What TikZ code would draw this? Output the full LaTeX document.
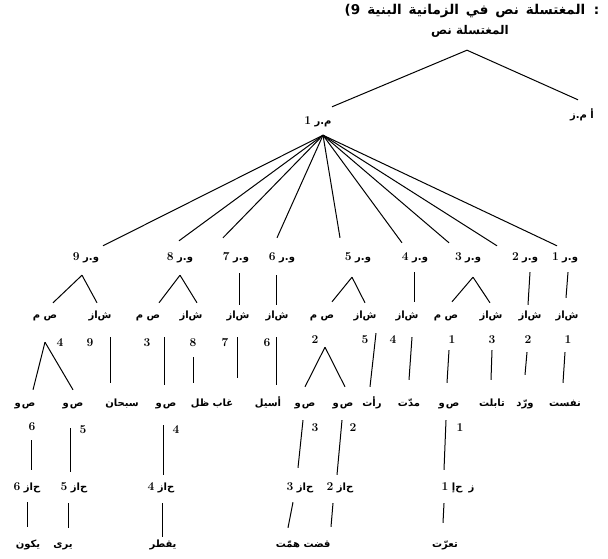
\documentclass[tikz,border=0pt]{standalone}
\usepackage{fontspec}
\newfontfamily\arabicfont[Script=Arabic]{DejaVu Sans}
\TeXXeTstate=1
\usetikzlibrary{calc}
\newcommand\nb[1]{\hbox{\normalfont\bfseries\fontsize{12}{14}\selectfont #1}}
\newcommand\zash{\hbox{ش}\hbox{ا}\hbox{ز}}
\newcommand\zah{\hbox{ح}\hbox{ا}\hbox{ز}}
\newcommand\waS{\hbox{ص}\kern1pt\hbox{و}}
\newcommand\ar[1]{\beginR #1\endR}
\newcommand\widesp{\spaceskip=7pt plus 2pt minus 1pt\relax}
\tikzset{
  lab/.style={font=\arabicfont\bfseries\fontsize{10}{12}\selectfont,inner sep=1.5pt,text height=8pt,text depth=3pt},
  head/.style={lab,font=\arabicfont\bfseries\fontsize{13.5}{15}\selectfont\widesp},
  num/.style={font=\bfseries\fontsize{12}{14}\selectfont,inner sep=1pt},
  tree/.style={line width=1pt}
}
\begin{document}
\begin{tikzpicture}[x=1pt,y=-1pt]
\useasboundingbox (0,0) rectangle (608,559);
\node(title) at (472,12)[head]     {\ar{: المغتسلة نص في الزمانية البنية \hbox{9)}}};
\node(root) at (470,32)[lab,font=\arabicfont\bfseries\fontsize{12}{14}\selectfont] {\ar{المغتسلة نص}};
\node(zma) at (582,116)[lab]       {\ar{أ م.ز}};
\node(mr1) at (318,122)[lab]       {\ar{م.ر \nb{1}}};

% units
\node(vr9) at (86,258)[lab]        {\ar{و.ر \nb{9}}};
\node(vr8) at (180,258)[lab]       {\ar{و.ر \nb{8}}};
\node(vr7) at (236,258)[lab]       {\ar{و.ر \nb{7}}};
\node(vr6) at (282,258)[lab]       {\ar{و.ر \nb{6}}};
\node(vr5) at (358,258)[lab]       {\ar{و.ر \nb{5}}};
\node(vr4) at (415,258)[lab]       {\ar{و.ر \nb{4}}};
\node(vr3) at (468,258)[lab]       {\ar{و.ر \nb{3}}};
\node(vr2) at (525,258)[lab]       {\ar{و.ر \nb{2}}};
\node(vr1) at (565,258)[lab]       {\ar{و.ر \nb{1}}};

\node(ms9) at (45,316)[lab]        {\ar{ص م}};
\node(zs9) at (100,316)[lab]       {\ar{\zash}};
\node(ms8) at (148,316)[lab]       {\ar{ص م}};
\node(zs8) at (191,316)[lab]       {\ar{\zash}};
\node(zs7) at (238,316)[lab]       {\ar{\zash}};
\node(zs6) at (277,316)[lab]       {\ar{\zash}};
\node(ms5) at (322,316)[lab]       {\ar{ص م}};
\node(zs5) at (365,316)[lab]       {\ar{\zash}};
\node(zs4) at (407,316)[lab]       {\ar{\zash}};
\node(ms3) at (446,316)[lab]       {\ar{ص م}};
\node(zs3) at (491,316)[lab]       {\ar{\zash}};
\node(zs2) at (530,316)[lab]       {\ar{\zash}};
\node(zs1) at (567,316)[lab]       {\ar{\zash}};

\node(nms9) at (60,343)[num]       {4};
\node(nzs9) at (90,343)[num]       {9};
\node(nms8) at (147,343)[num]      {3};
\node(nzs8) at (193,343)[num]      {8};
\node(nzs7) at (225,343)[num]      {7};
\node(nzs6) at (267,343)[num]      {6};
\node(nms5) at (315,340)[num]      {2};
\node(nzs5) at (365,340)[num]      {5};
\node(nzs4) at (393,340)[num]      {4};
\node(nms3) at (452,340)[num]      {1};
\node(nzs3) at (492,340)[num]      {3};
\node(nzs2) at (528,340)[num]      {2};
\node(nzs1) at (568,340)[num]      {1};

\node(ws9a) at (25,404)[lab]       {\ar{\waS}};
\node(ws9b) at (73,404)[lab]       {\ar{\waS}};
\node(sbh) at (122,404)[lab]       {\ar{سبحان}};
\node(ws8) at (166,404)[lab]       {\ar{\waS}};
\node(dhl) at (200,404)[lab]       {\ar{ظل}};
\node(ghb) at (223,404)[lab]       {\ar{غاب}};
\node(asl) at (268,404)[lab]       {\ar{أسيل}};
\node(ws5a) at (305,404)[lab]      {\ar{\waS}};
\node(ws5b) at (343,404)[lab]      {\ar{\waS}};
\node(rat) at (372,404)[lab]       {\ar{رأت}};
\node(mdt) at (409,404)[lab]       {\ar{مدّت}};
\node(ws3) at (449,404)[lab]       {\ar{\waS}};
\node(tbl) at (492,404)[lab]       {\ar{تابلت}};
\node(wrd) at (525,404)[lab]       {\ar{ورّد}};
\node(nfs) at (565,404)[lab]       {\ar{نفست}};

\node(nws9a) at (32,427)[num]      {6};
\node(nws9b) at (83,430)[num]      {5};
\node(nws8) at (176,430)[num]      {4};
\node(nws5a) at (315,428)[num]     {3};
\node(nws5b) at (353,428)[num]     {2};
\node(nws3) at (460,428)[num]      {1};

\node(zh6) at (27,488)[lab]        {\ar{\zah\ \nb{6}}};
\node(zh5) at (74,488)[lab]        {\ar{\zah\ \nb{5}}};
\node(zh4) at (161,488)[lab]       {\ar{\zah\ \nb{4}}};
\node(zh3) at (300,488)[lab]       {\ar{\zah\ \nb{3}}};
\node(zh2) at (340,488)[lab]       {\ar{\zah\ \nb{2}}};
\node(zh1) at (458,488)[lab]       {\ar{ز\hspace{6pt}\hbox{ح}\hbox{إ}\ \nb{1}}};

\node(ykn) at (28,545)[lab]        {\ar{يكون}};
\node(yra) at (63,545)[lab]        {\ar{يرى}};
\node(yqt) at (163,545)[lab]       {\ar{يقطر}};
\node(hmt) at (288,545)[lab]       {\ar{همّت}};
\node(qdt) at (317,545)[lab]       {\ar{قضت}};
\node(tar) at (445,545)[lab]       {\ar{تعرّت}};

% apexes
\coordinate (top) at ($(root.south)+(-3,11)$);
\coordinate (fan) at ($(mr1.south)+(5,6)$);
\coordinate (t9) at ($(vr9.south)+(-4,10)$);
\coordinate (t8) at ($(vr8.south)+(0,10)$);
\coordinate (t5) at ($(vr5.south)+(-6,12)$);
\coordinate (t3) at ($(vr3.south)+(5,12)$);
\coordinate (tm9) at ($(ms9.south)+(0,19)$);
\coordinate (tm5) at ($(ms5.south)+(3,24)$);

\path [tree]
  (top) edge ($(mr1.north)+(14,-8)$)
  (top) edge ($(zma.north)+(-4,-9)$)
  (fan) edge ($(vr9.north)+(17,-5)$)
  (fan) edge ($(vr8.north)+(-1,-10)$)
  (fan) edge ($(vr7.north)+(-13,-13)$)
  (fan) edge ($(vr6.north)+(-5,-13)$)
  (fan) edge ($(vr5.north)+(-18,-13)$)
  (fan) edge ($(vr4.north)+(-13,-8)$)
  (fan) edge ($(vr3.north)+(-19,-8)$)
  (fan) edge ($(vr2.north)+(-28,-5)$)
  (fan) edge ($(vr1.north)+(-8,-5)$);

\path [tree]
  (t9) edge ($(ms9.north)+(8,-6)$)
  (t9) edge ($(zs9.north)+(-3,-6)$)
  (t8) edge ($(ms8.north)+(11,-6)$)
  (t8) edge ($(zs8.north)+(6,-6)$)
  ($(vr7.south)+(3,8)$) edge ($(zs7.north)+(1,-4)$)
  ($(vr6.south)+(-6,10)$) edge ($(zs6.north)+(-1,-4)$)
  (t5) edge ($(ms5.north)+(10,-7)$)
  (t5) edge ($(zs5.north)+(0,-6)$)
  ($(vr4.south)+(-1,7)$) edge ($(zs4.north)+(7,-7)$)
  (t3) edge ($(ms3.north)+(6,-7)$)
  (t3) edge ($(zs3.north)+(-1,-6)$)
  ($(vr2.south)+(5,7)$) edge ($(zs2.north)+(-2,-4)$)
  ($(vr1.south)+(3,7)$) edge ($(zs1.north)+(-1,-11)$);

\path [tree]
  (tm9) edge ($(ws9a.north)+(8,-7)$)
  (tm9) edge ($(ws9b.north)+(0,-7)$)
  ($(zs9.south)+(10,14)$) edge ($(sbh.north)+(-12,-14)$)
  ($(ms8.south)+(16,14)$) edge ($(ws8.north)+(-2,-12)$)
  ($(zs8.south)+(2,34)$) edge ($(dhl.north)+(-7,-14)$)
  ($(zs7.south)+(-1,14)$) edge ($(ghb.north)+(14,-19)$)
  ($(zs6.south)+(-1,14)$) edge ($(asl.north)+(8,-12)$)
  (tm5) edge ($(ws5a.north)+(0,-10)$)
  (tm5) edge ($(ws5b.north)+(2,-10)$)
  ($(zs5.south)+(11,10)$) edge ($(rat.north)+(-2,-10)$)
  ($(zs4.south)+(5,14)$) edge ($(mdt.north)+(0,-17)$)
  ($(ms3.south)+(3,27)$) edge ($(ws3.north)+(-2,-14)$)
  ($(zs3.south)+(1,27)$) edge ($(tbl.north)+(-1,-17)$)
  ($(zs2.south)+(-3,29)$) edge ($(wrd.north)+(0,-22)$)
  ($(zs1.south)+(-2,29)$) edge ($(nfs.north)+(-2,-14)$);

\path [tree]
  ($(ws9a.south)+(6,29)$) edge ($(zh6.north)+(4,-11)$)
  ($(ws9b.south)+(-3,17)$) edge ($(zh5.north)+(-4,-9)$)
  ($(ws8.south)+(-3,14)$) edge ($(zh4.north)+(2,-6)$)
  ($(ws5a.south)+(-2,9)$) edge ($(zh3.north)+(-2,-13)$)
  ($(ws5b.south)+(-1,9)$) edge ($(zh2.north)+(-3,-6)$)
  ($(ws3.south)+(-3,9)$) edge ($(zh1.north)+(-14,-11)$)
  ($(zh6.south)+(0,7)$) edge ($(ykn.north)+(-1,-11)$)
  ($(zh5.south)+(-6,8)$) edge ($(yra.north)+(5,-10)$)
  ($(zh4.south)+(1,8)$) edge ($(yqt.north)+(-1,-1)$)
  ($(zh3.south)+(-7,7)$) edge ($(hmt.north)+(0,-10)$)
  ($(zh2.south)+(-7,8)$) edge ($(qdt.north)+(14,-11)$)
  ($(zh1.south)+(-14,8)$) edge ($(tar.north)+(-2,-15)$);
\end{tikzpicture}
\end{document}
